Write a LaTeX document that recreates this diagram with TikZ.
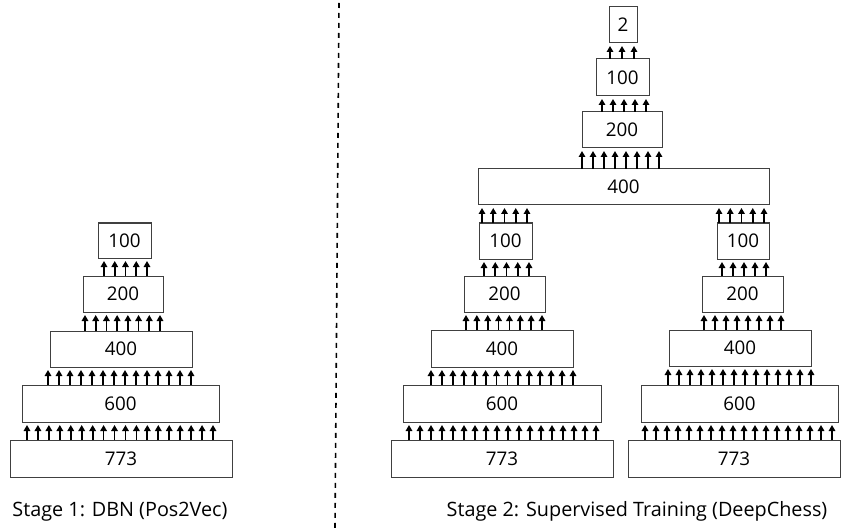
\documentclass[tikz,border=0pt]{standalone}
\usepackage{fontspec}
\setmainfont{Open Sans}
\usetikzlibrary{arrows.meta}
\tikzset{
  box/.style={draw=black!75, line width=1pt, fill=white, inner sep=0pt, outer sep=0pt,
    font=\fontsize{18.8}{22}\selectfont},
  uparr/.style={line width=1.8pt, -{Triangle[width=6.5pt,length=6pt]}},
  stagelabel/.style={font=\fontsize{19.8}{24}\selectfont, anchor=base, inner sep=0pt},
  divider/.style={line width=1.6pt, dash pattern=on 5pt off 5pt}
}
\newcommand\bx[6]{\node[box, minimum width={(#4-#2)*1pt}, minimum height={(#5-#3)*1pt}] (#1) at ({(#2+#4)/2},{(#3+#5)/2}) {#6};}
\newcommand\arrs[5]{%
  \foreach \i in {1,...,#3}{%
    \pgfmathsetmacro\xx{#4+(\i-1)*(#5-#4)/(#3-1)}%
    \draw[uparr] (\xx,0 |- #1.north) -- ([yshift=-3pt]\xx,0 |- #2.south);
  }}
\begin{document}
\begin{tikzpicture}[x=1pt,y=-1pt]
\useasboundingbox (0,0) rectangle (842,529);
% divider
\coordinate (dtop) at (339,3);
\coordinate (dbot) at (335,529);
\draw[divider] (dtop) -- (dbot);
% left stack (Stage 1)
\bx{L100}{98}{223}{151}{258}{100}
\bx{L200}{83}{276}{163}{312}{200}
\bx{L400}{50}{331}{192}{367}{400}
\bx{L600}{22}{385}{219}{422}{600}
\bx{L773}{10}{440}{232}{477}{773}
\arrs{L200}{L100}{5}{104}{147}
\arrs{L400}{L200}{8}{85}{160}
\arrs{L600}{L400}{14}{48}{191}
\arrs{L773}{L600}{18}{27}{213}
% middle stack
\bx{A100}{479}{223}{532}{259}{100}
\bx{A200}{464}{276}{545}{312}{200}
\bx{A400}{431}{330}{573}{367}{400}
\bx{A600}{403}{385}{601}{422}{600}
\bx{A773}{391}{440}{613}{477}{773}
\arrs{A200}{A100}{5}{484}{529}
\arrs{A400}{A200}{8}{466}{542}
\arrs{A600}{A400}{14}{431}{573}
\arrs{A773}{A600}{18}{409}{596}
% right stack
\bx{B100}{717}{223}{769}{259}{100}
\bx{B200}{702}{276}{783}{312}{200}
\bx{B400}{669}{330}{811}{366}{400}
\bx{B600}{641}{385}{838}{422}{600}
\bx{B773}{628}{440}{840}{477}{773}
\arrs{B200}{B100}{5}{722}{766}
\arrs{B400}{B200}{8}{704}{781}
\arrs{B600}{B400}{14}{668}{811}
\arrs{B773}{B600}{18}{645}{832}
% top
\bx{T2}{609}{7}{637}{43}{2}
\bx{T100}{596}{59}{649}{96}{100}
\bx{T200}{582}{112}{662}{148}{200}
\bx{T400}{478}{169}{769}{205}{400}
\arrs{T100}{T2}{3}{610}{634}
\arrs{T200}{T100}{5}{602}{646}
\arrs{T400}{T200}{8}{582}{659}
\arrs{A100}{T400}{5}{482}{527}
\arrs{B100}{T400}{5}{719}{764}
% labels
\node[stagelabel] (s1) at (120,516) {Stage 1: DBN (Pos2Vec)};
\node[stagelabel] (s2) at (637,516) {Stage 2: Supervised Training (DeepChess)};
\end{tikzpicture}
\end{document}
